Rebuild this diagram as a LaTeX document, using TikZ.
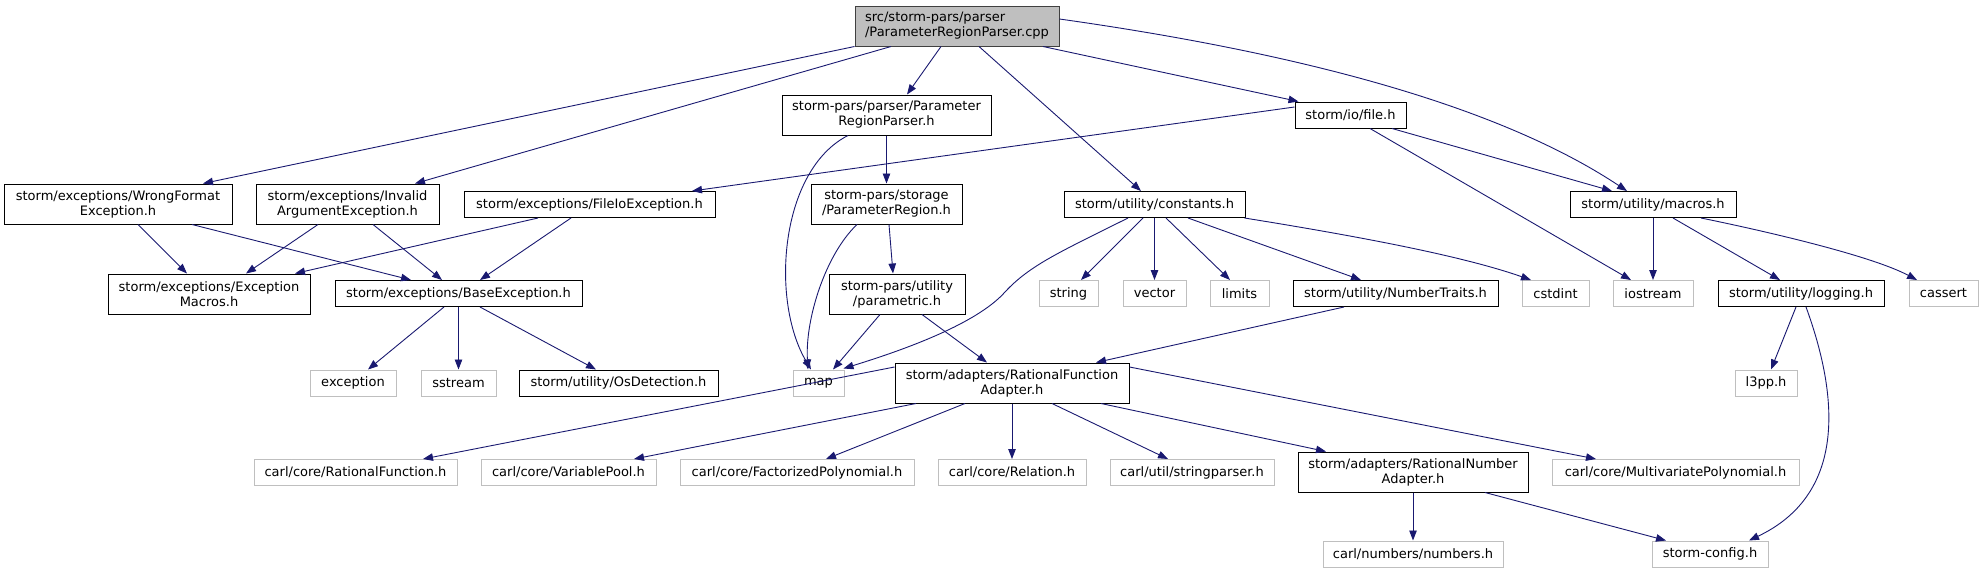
\documentclass[tikz,border=0pt]{standalone}
\usepackage{fontspec}
\setmainfont{DejaVu Sans}
\usetikzlibrary{arrows.meta}
\definecolor{edgec}{HTML}{191970}
\definecolor{greyb}{HTML}{BFBFBF}
\definecolor{rootfill}{HTML}{BFBFBF}
\tikzset{
  hbox/.style={draw=black, line width=1pt, fill=white, inner sep=0pt, align=center,
    font=\fontsize{13}{15}\selectfont},
  xbox/.style={hbox, draw=greyb},
  dep/.style={draw=edgec, line width=0.9pt, -{Triangle[length=10pt,width=7.5pt]}},
}
\begin{document}
\begin{tikzpicture}[x=1pt,y=-1pt]
\useasboundingbox (0,0) rectangle (1984,573);
% row 0
\node[hbox, fill=rootfill, draw=black!75, align=left, minimum width=204pt, minimum height=40pt] (root) at (957,26) {src/storm-pars/parser\\/ParameterRegionParser.cpp};
% row 1
\node[hbox, minimum width=209pt, minimum height=40pt] (prph) at (886.5,115) {storm-pars/parser/Parameter\\RegionParser.h};
\node[hbox, minimum width=111pt, minimum height=26pt] (file) at (1350.5,115) {storm/io/file.h};
% row 2
\node[hbox, minimum width=228pt, minimum height=40pt] (wfe) at (118,204) {storm/exceptions/WrongFormat\\Exception.h};
\node[hbox, minimum width=183pt, minimum height=40pt] (iae) at (347.5,204) {storm/exceptions/Invalid\\ArgumentException.h};
\node[hbox, minimum width=251pt, minimum height=26pt] (fio) at (589.5,204.5) {storm/exceptions/FileIoException.h};
\node[hbox, minimum width=151pt, minimum height=40pt] (pr) at (886.5,204) {storm-pars/storage\\/ParameterRegion.h};
\node[hbox, minimum width=181pt, minimum height=26pt] (const) at (1154.5,204.5) {storm/utility/constants.h};
\node[hbox, minimum width=166pt, minimum height=26pt] (macros) at (1653,204.5) {storm/utility/macros.h};
% row 3
\node[hbox, minimum width=202pt, minimum height=40pt] (em) at (209,294) {storm/exceptions/Exception\\Macros.h};
\node[hbox, minimum width=247pt, minimum height=26pt] (be) at (458.5,293.5) {storm/exceptions/BaseException.h};
\node[hbox, minimum width=136pt, minimum height=40pt] (param) at (897,294) {storm-pars/utility\\/parametric.h};
\node[xbox, minimum width=59pt, minimum height=26pt] (string) at (1068.5,293.5) {string};
\node[xbox, minimum width=63pt, minimum height=26pt] (vector) at (1154.5,293.5) {vector};
\node[xbox, minimum width=59pt, minimum height=26pt] (limits) at (1239.5,293.5) {limits};
\node[hbox, minimum width=205pt, minimum height=26pt] (nt) at (1395.5,293.5) {storm/utility/NumberTraits.h};
\node[xbox, minimum width=67pt, minimum height=26pt] (cstdint) at (1555.5,293.5) {cstdint};
\node[xbox, minimum width=80pt, minimum height=26pt] (iostream) at (1653,293.5) {iostream};
\node[hbox, minimum width=166pt, minimum height=26pt] (logging) at (1801,293.5) {storm/utility/logging.h};
\node[xbox, minimum width=69pt, minimum height=26pt] (cassert) at (1943.5,293.5) {cassert};
% row 4
\node[xbox, minimum width=86pt, minimum height=26pt] (exception) at (353,383) {exception};
\node[xbox, minimum width=75pt, minimum height=26pt] (sstream) at (458.5,383) {sstream};
\node[hbox, minimum width=199pt, minimum height=26pt] (os) at (618.5,383) {storm/utility/OsDetection.h};
\node[xbox, minimum width=51pt, minimum height=26pt] (map) at (818.5,383) {map};
\node[hbox, minimum width=234pt, minimum height=40pt] (rfa) at (1012,383) {storm/adapters/RationalFunction\\Adapter.h};
\node[xbox, minimum width=62pt, minimum height=26pt] (l3pp) at (1766,383) {l3pp.h};
% row 5
\node[xbox, minimum width=203pt, minimum height=26pt] (crf) at (355.5,472.5) {carl/core/RationalFunction.h};
\node[xbox, minimum width=175pt, minimum height=26pt] (vp) at (568.5,472.5) {carl/core/VariablePool.h};
\node[xbox, minimum width=234pt, minimum height=26pt] (fp) at (797,472.5) {carl/core/FactorizedPolynomial.h};
\node[xbox, minimum width=148pt, minimum height=26pt] (rel) at (1012,472.5) {carl/core/Relation.h};
\node[xbox, minimum width=164pt, minimum height=26pt] (sp) at (1192,472.5) {carl/util/stringparser.h};
\node[hbox, minimum width=230pt, minimum height=40pt] (rna) at (1413,472) {storm/adapters/RationalNumber\\Adapter.h};
\node[xbox, minimum width=247pt, minimum height=26pt] (mp) at (1675.5,472.5) {carl/core/MultivariatePolynomial.h};
% row 6
\node[xbox, minimum width=180pt, minimum height=26pt] (nums) at (1413,554) {carl/numbers/numbers.h};
\node[xbox, minimum width=116pt, minimum height=26pt] (cfg) at (1710,554) {storm-config.h};

% edges from root
\draw[dep] (root.south west) -- ([xshift=85pt]wfe.north);
\draw[dep] ([xshift=-66pt]root.south) -- ([xshift=67.5pt]iae.north);
\draw[dep] ([xshift=-16pt]root.south) -- ([xshift=20.5pt]prph.north);
\draw[dep] ([xshift=22pt]root.south) -- ([xshift=-13.5pt]const.north);
\draw[dep] ([xshift=86pt]root.south) -- ([xshift=4pt]file.north west);
\draw[dep] ([yshift=7pt]root.east) .. controls (1350,60) and (1520,120) .. ([xshift=-26pt]macros.north);
% file
\draw[dep] ([yshift=8pt]file.west) -- ([xshift=102.5pt]fio.north);
\draw[dep] ([xshift=19.5pt]file.south) -- ([xshift=-22pt]iostream.north);
\draw[dep] ([xshift=41.5pt]file.south) -- ([xshift=-41pt]macros.north);
% prph
\draw[dep] ([xshift=-38.5pt]prph.south) .. controls (780,170) and (770,300) .. ([xshift=-7.5pt]map.north);
\draw[dep] (prph.south) -- (pr.north);
% exceptions
\draw[dep] ([xshift=20pt]wfe.south) -- ([xshift=-22pt]em.north);
\draw[dep] ([xshift=74pt]wfe.south) -- ([xshift=-47.5pt]be.north);
\draw[dep] ([xshift=-29.5pt]iae.south) -- ([xshift=37pt]em.north);
\draw[dep] ([xshift=25.5pt]iae.south) -- ([xshift=-16.5pt]be.north);
\draw[dep] ([xshift=-51.5pt]fio.south) -- ([xshift=86pt]em.north);
\draw[dep] ([xshift=-18.5pt]fio.south) -- ([xshift=21.5pt]be.north);
\draw[dep] ([xshift=-14.5pt]be.south) -- ([xshift=15pt]exception.north);
\draw[dep] (be.south) -- (sstream.north);
\draw[dep] ([xshift=21.5pt]be.south) -- ([xshift=-22.5pt]os.north);
% pr, param
\draw[dep] ([xshift=-29.5pt]pr.south) .. controls (825,255) and (805,320) .. ([xshift=-10.5pt]map.north);
\draw[dep] ([xshift=2.5pt]pr.south) -- ([xshift=-4pt]param.north);
\draw[dep] ([xshift=-17pt]param.south) -- ([xshift=14.5pt]map.north);
\draw[dep] ([xshift=25pt]param.south) -- ([xshift=-25pt]rfa.north);
% constants
\draw[dep] ([xshift=-26.5pt]const.south) .. controls (1060,252) and (1030,265) .. (1005,292) .. controls (980,320) and (920,345) .. ([xshift=-1pt,yshift=1pt]map.north east);
\draw[dep] ([xshift=-11.5pt]const.south) -- ([xshift=12.5pt]string.north);
\draw[dep] (const.south) -- (vector.north);
\draw[dep] ([xshift=11.5pt]const.south) -- ([xshift=-9.5pt]limits.north);
\draw[dep] ([xshift=33.5pt]const.south) -- ([xshift=-34.5pt]nt.north);
\draw[dep] ([xshift=-1pt]const.south east) .. controls (1350,235) and (1460,255) .. ([xshift=-24.5pt]cstdint.north);
\draw[dep] ([xshift=-51.5pt]nt.south) -- ([xshift=84pt]rfa.north);
% macros, logging
\draw[dep] (macros.south) -- (iostream.north);
\draw[dep] ([xshift=20pt]macros.south) -- ([xshift=-21pt]logging.north);
\draw[dep] ([xshift=48pt]macros.south) .. controls (1760,230) and (1870,255) .. ([xshift=-26.5pt]cassert.north);
\draw[dep] ([xshift=-5pt]logging.south) -- ([xshift=5pt]l3pp.north);
\draw[dep] ([xshift=5pt]logging.south) .. controls (1840,400) and (1845,495) .. ([xshift=39pt]cfg.north);
% rfa
\draw[dep] ([yshift=16pt]rfa.west) -- ([xshift=67.5pt]crf.north);
\draw[dep] ([xshift=-96pt]rfa.south) -- ([xshift=65.5pt]vp.north);
\draw[dep] ([xshift=-47pt]rfa.south) -- ([xshift=29pt]fp.north);
\draw[dep] (rfa.south) -- (rel.north);
\draw[dep] ([xshift=40pt]rfa.south) -- ([xshift=-24pt]sp.north);
\draw[dep] ([xshift=89pt]rfa.south) -- ([xshift=-87pt]rna.north);
\draw[dep] ([yshift=16pt]rfa.east) -- ([xshift=-79.5pt]mp.north);
% rna
\draw[dep] (rna.south) -- (nums.north);
\draw[dep] ([xshift=72pt]rna.south) -- ([xshift=-44pt]cfg.north);
\end{tikzpicture}
\end{document}
